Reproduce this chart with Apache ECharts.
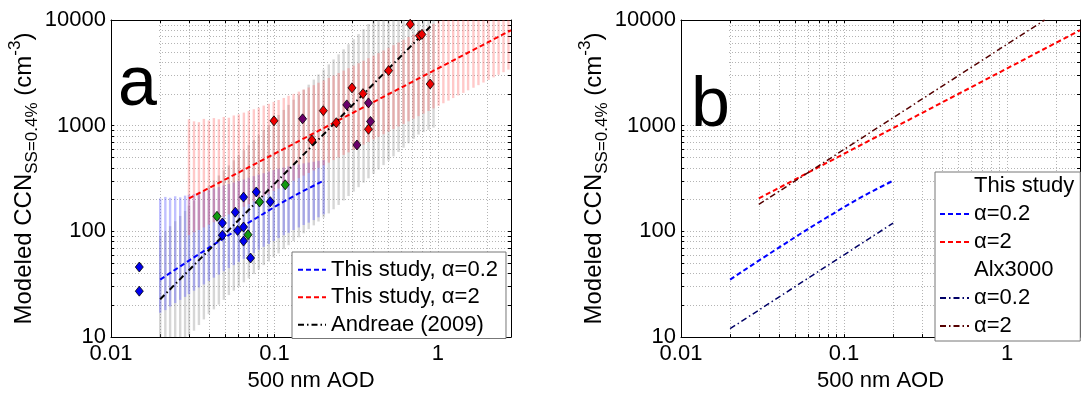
<!DOCTYPE html>
<html><head><meta charset="utf-8">
<script src="https://cdn.jsdelivr.net/npm/echarts@6/dist/echarts.min.js"></script>
<style>html,body{margin:0;padding:0;background:#fff}#c{width:1085px;height:397px}</style>
</head><body><div id="c"></div>
<script>
// ---------- data ----------
const xTickVals = [0.01,0.02,0.03,0.04,0.05,0.06,0.07,0.08,0.09,0.1,0.2,0.3,0.4,0.5,0.6,0.7,0.8,0.9,1,2];
const yTickVals = [10,20,30,40,50,60,70,80,90,100,200,300,400,500,600,700,800,900,1000,2000,3000,4000,5000,6000,7000,8000,9000,10000];
const xLabelVals = [0.01,0.1,1];
const yLabelVals = [10,100,1000,10000];

// AOD positions of the vertical range bars
const barX = [0.020,0.0215,0.023,0.0247,0.0265,0.0284,0.030,0.0322,0.0345,0.037,0.0397,0.0426,0.0457,0.049,0.0526,0.0564,0.0605,0.065,0.0697,0.0748,0.0802,0.086,0.0923,0.099,0.106,0.114,0.122,0.131,0.141,0.151,0.162,0.174,0.186,0.200,0.215,0.23,0.247,0.265,0.284,0.305,0.327,0.351,0.376,0.404,0.433,0.465,0.499,0.535,0.574,0.616,0.661,0.709,0.761,0.816,0.876,0.94,1.01,1.08,1.16,1.24,1.33,1.43,1.53,1.65,1.77,1.9,2.04,2.19,2.35,2.52,2.7];

// alpha=0.2 range (barX[0..33])
const blueLo = [17,18,19.5,21,22.5,24,25.5,27.5,29.5,31.5,34,36.5,39,42,45,48,51.5,55,58.5,62.5,67,71.5,76,81,86.5,92,97,103,109,115,121,128,136,145];
const blueHi = [205,212,208,215,210,218,222,226,232,238,246,255,262,272,281,290,300,310,322,333,345,355,368,380,392,402,412,422,430,440,448,456,465,472];
// alpha=2 range (barX[6..70])
const redLo = [92,98,103,109,116,122,130,137,145,153,162,171,181,192,203,215,227,241,254,269,285,301,319,337,357,377,399,422,447,473,500,529,559,592,626,662,701,742,784,830,878,929,983,1040,1100,1164,1231,1302,1378,1458,1542,1631,1726,1826,1932,2043,2162,2287,2420,2560,2709,2866,3032,3207,3393];
const redHi = [1150,1100,1080,1160,1120,1180,1150,1210,1190,1250,1280,1330,1380,1430,1480,1550,1610,1680,1750,1830,1920,2000,2100,2200,2300,2420,2550,2680,2830,2980,3150,3320,3500,3700,3900,4120,4350,4600,4860,5150,5450,5780,6120,6500,6900,7300,7750,8200,8700,9200,9800,10000,10000,10000,10000,10000,10000,10000,10000,10000,10000,10000,10000,10000,10000];
// Andreae range (barX[0..55])
const greyLo = [5,5.8,6.8,7.8,8.8,9.6,10.3,11.5,13,14.7,16.5,18.3,20.3,22.5,25,27.5,30,33,36,39.5,43.5,48,52,57,62,68,74,81,88,96,105,114,124,135,148,162,178,196,216,238,262,289,318,350,385,424,466,513,564,620,682,750,825,870,915,960];
const greyHi = [90,100,112,125,140,156,175,195,218,243,271,303,338,377,421,470,525,586,654,730,815,910,1015,1135,1265,1410,1575,1760,1965,2190,2445,2730,3050,3400,3800,4240,4730,5280,5900,6580,7350,8200,9150,10000,10000,10000,10000,10000,10000,10000,10000,10000,10000,10000,10000,10000];

// model curves
const blueLineX = [0.02,0.025,0.03,0.04,0.05,0.06,0.07,0.085,0.1,0.12,0.14,0.17,0.2];
const blueLineY = [35,44,53,70.5,88,105,122,146,170,200,228,266,302];
const redLineX = [0.03,2.8];
const redLineY = [205,8000];
const andreaeX = [0.02,0.92];
const andreaeY = [22.8,9000];
const alxLowX = [0.02,0.2];
const alxLowY = [12,120];
const alxHighX = [0.03,1.7];
const alxHighY = [180,10000];

// observations
const obsBlueX = [0.0149,0.0149,0.048,0.0576,0.048,0.0595,0.0647,0.0647,0.0647,0.0714,0.0774,0.0943];
const obsBlueY = [46,27.2,120,152,92,102,110,211,81,56,236,191];
const obsGreenX = [0.0445,0.0689,0.0811,0.1164];
const obsGreenY = [139,93,190,276];
const obsRedX = [0.0993,0.199,0.1695,0.239,0.376,0.677,0.771,0.798,0.499,0.897,0.298,0.348];
const obsRedY = [1112,1387,731,1067,925,9120,7110,7310,3320,2480,2280,2010];
const obsPurpleX = [0.1486,0.277,0.376,0.387,0.3196];
const obsPurpleY = [1161,1574,1644,1097,657];

const legendBLabels = {hdrStudy:'This study', bBlue:'α=0.2', bRed:'α=2', hdrAlx:'Alx3000', bNavy:'α=0.2', bBrown:'α=2'};

// ---------- helpers ----------
const FONT = "'Liberation Sans', Arial, sans-serif";
const zip = (xs, ys) => xs.map((x, i) => [x, ys[i]]);
const bars = (xs, lo, hi) => lo.map((l, i) => [xs[i], l, hi[i]]);

function xAxisCfg(grid, pos, labels, name) {
  return {
    type: 'log', logBase: 10, gridIndex: grid, position: pos, min: 0.01, max: 2.8,
    name: name ? '500 nm AOD' : '', nameLocation: 'middle', nameGap: 26,
    nameTextStyle: {fontFamily: FONT, fontSize: 22, color: '#000'},
    axisLine: {show: true, onZero: false, lineStyle: {color: '#000', width: 1}},
    axisTick: {show: true, inside: true, length: 3, customValues: xTickVals, lineStyle: {color: '#000'}},
    axisLabel: {show: labels, customValues: xLabelVals, fontFamily: FONT, fontSize: 22, color: '#000', margin: 6,
      formatter: v => String(v)},
    splitLine: {show: labels, lineStyle: {color: '#b4b4b4', type: [1, 2], width: 1}},
    minorTick: {show: false}, minorSplitLine: {show: false}
  };
}
function yAxisCfg(grid, pos, labels, name) {
  return {
    type: 'log', logBase: 10, gridIndex: grid, position: pos, min: 10, max: 10000,
    name: name ? '{a|Modeled CCN}{sub|SS=0.4%}{a| (cm}{sup|-3}{a|)}' : '',
    nameLocation: 'middle', nameRotate: 90, nameGap: 66,
    nameTextStyle: {fontFamily: FONT, color: '#000', rich: {
      a: {fontFamily: FONT, fontSize: 24, color: '#000', lineHeight: 34, verticalAlign: 'middle'},
      sub: {fontFamily: FONT, fontSize: 17, color: '#000', lineHeight: 17, verticalAlign: 'bottom'},
      sup: {fontFamily: FONT, fontSize: 17, color: '#000', lineHeight: 17, verticalAlign: 'top'}
    }},
    axisLine: {show: true, onZero: false, lineStyle: {color: '#000', width: 1}},
    axisTick: {show: true, inside: true, length: 3, customValues: yTickVals, lineStyle: {color: '#000'}},
    axisLabel: {show: labels, customValues: yLabelVals, fontFamily: FONT, fontSize: 22, color: '#000', margin: 5,
      formatter: v => String(v)},
    splitLine: {show: labels, lineStyle: {color: '#b4b4b4', type: [1, 2], width: 1}},
    minorTick: {show: false}, minorSplitLine: {show: false}
  };
}
function barSeries(data, color, xi, yi, z) {
  return {
    type: 'custom', xAxisIndex: xi, yAxisIndex: yi, z: z, silent: true,
    data: data, encode: {x: 0, y: [1, 2]},
    renderItem: function (params, api) {
      const p1 = api.coord([api.value(0), api.value(1)]);
      const p2 = api.coord([api.value(0), api.value(2)]);
      const cs = params.coordSys;
      const top = cs.y, bot = cs.y + cs.height;
      const y1 = Math.min(Math.max(p1[1], top), bot);
      const y2 = Math.min(Math.max(p2[1], top), bot);
      return {type: 'line', shape: {x1: p1[0], y1: y1, x2: p2[0], y2: y2},
        style: {stroke: color, lineWidth: 2.4}};
    }
  };
}
function lineSeries(name, xs, ys, color, dash, width, xi, yi) {
  return {name: name, type: 'line', xAxisIndex: xi, yAxisIndex: yi, data: zip(xs, ys),
    showSymbol: false, symbol: 'none', silent: true, z: 5,
    lineStyle: {color: color, width: width, type: dash}, itemStyle: {color: color}};
}
function dots(xs, ys, color) {
  return {type: 'scatter', xAxisIndex: 0, yAxisIndex: 0, data: zip(xs, ys), symbol: 'diamond',
    symbolSize: [8, 10], silent: true, z: 6,
    itemStyle: {color: color, borderColor: '#000', borderWidth: 0.8, opacity: 1}};
}
const DASH = [5, 3];
const DASHDOT = [6, 3, 1.5, 3];
const hiddenIcon = {color: 'rgba(0,0,0,0)', borderWidth: 0, opacity: 0};

const option = {
  animation: false,
  backgroundColor: '#fff',
  grid: [
    {left: 111, top: 20, width: 400, height: 324, containLabel: false},
    {left: 681, top: 20, width: 399, height: 324, containLabel: false}
  ],
  xAxis: [xAxisCfg(0, 'bottom', true, true), xAxisCfg(0, 'top', false, false),
          xAxisCfg(1, 'bottom', true, true), xAxisCfg(1, 'top', false, false)],
  yAxis: [yAxisCfg(0, 'left', true, true), yAxisCfg(0, 'right', false, false),
          yAxisCfg(1, 'left', true, true), yAxisCfg(1, 'right', false, false)],
  legend: [
    {data: ['This study, α=0.2', 'This study, α=2', 'Andreae (2009)'], orient: 'vertical',
     left: 292, top: 252, itemWidth: 28, itemHeight: 12, itemGap: 0, selectedMode: false,
     itemStyle: hiddenIcon,
     padding: [4, 8, 0, 5], backgroundColor: '#fff', borderColor: '#777', borderWidth: 1,
     textStyle: {fontFamily: FONT, fontSize: 22, color: '#000', lineHeight: 27.5}},
    {data: [{name: 'hdrStudy', icon: 'rect', itemStyle: {opacity: 0}, lineStyle: {opacity: 0}},
            'bBlue', 'bRed',
            {name: 'hdrAlx', icon: 'rect', itemStyle: {opacity: 0}, lineStyle: {opacity: 0}},
            'bNavy', 'bBrown'],
     orient: 'vertical', left: 935, top: 172, itemWidth: 29, itemHeight: 12, itemGap: 0, selectedMode: false,
     itemStyle: hiddenIcon,
     padding: [0, 6, 1, 4], backgroundColor: '#fff', borderColor: '#777', borderWidth: 1,
     formatter: n => legendBLabels[n],
     textStyle: {fontFamily: FONT, fontSize: 22, color: '#000', lineHeight: 28}}
  ],
  graphic: [
    {type: 'rect', z: 50, shape: {x: 112, y: 21, width: 47, height: 97}, style: {fill: '#fff'}, silent: true},
    {type: 'text', z: 51, style: {x: 118, y: 86, text: 'a', font: "70px 'Liberation Sans', Arial", fill: '#000', verticalAlign: 'middle'}, silent: true},
    {type: 'rect', z: 50, shape: {x: 682, y: 21, width: 47, height: 104}, style: {fill: '#fff'}, silent: true},
    {type: 'text', z: 51, style: {x: 691, y: 107, text: 'b', font: "70px 'Liberation Sans', Arial", fill: '#000', verticalAlign: 'middle'}, silent: true}
  ],
  series: [
    barSeries(bars(barX.slice(0, 56), greyLo, greyHi), 'rgba(130,130,130,0.33)', 0, 0, 1),
    barSeries(bars(barX.slice(0, 34), blueLo, blueHi), 'rgba(90,90,255,0.38)', 0, 0, 2),
    barSeries(bars(barX.slice(6, 71), redLo, redHi), 'rgba(255,90,90,0.33)', 0, 0, 3),
    lineSeries('This study, α=0.2', blueLineX, blueLineY, '#0000ff', DASH, 2, 0, 0),
    lineSeries('This study, α=2', redLineX, redLineY, '#ff0000', DASH, 2, 0, 0),
    lineSeries('Andreae (2009)', andreaeX, andreaeY, '#000000', DASHDOT, 2, 0, 0),
    dots(obsBlueX, obsBlueY, '#0000ee'),
    dots(obsGreenX, obsGreenY, '#119911'),
    dots(obsRedX, obsRedY, '#ee0000'),
    dots(obsPurpleX, obsPurpleY, '#6a006a'),
    lineSeries('hdrStudy', [], [], '#fff', 'solid', 0, 2, 2),
    lineSeries('bBlue', blueLineX, blueLineY, '#0000ff', DASH, 2, 2, 2),
    lineSeries('bRed', redLineX, redLineY, '#ff0000', DASH, 2, 2, 2),
    lineSeries('hdrAlx', [], [], '#fff', 'solid', 0, 2, 2),
    lineSeries('bNavy', alxLowX, alxLowY, '#000066', DASHDOT, 1.5, 2, 2),
    lineSeries('bBrown', alxHighX, alxHighY, '#550000', DASHDOT, 1.5, 2, 2)
  ]
};
const chart = echarts.init(document.getElementById('c'), null, {renderer: 'canvas'});
chart.setOption(option);
</script>
</body></html>
